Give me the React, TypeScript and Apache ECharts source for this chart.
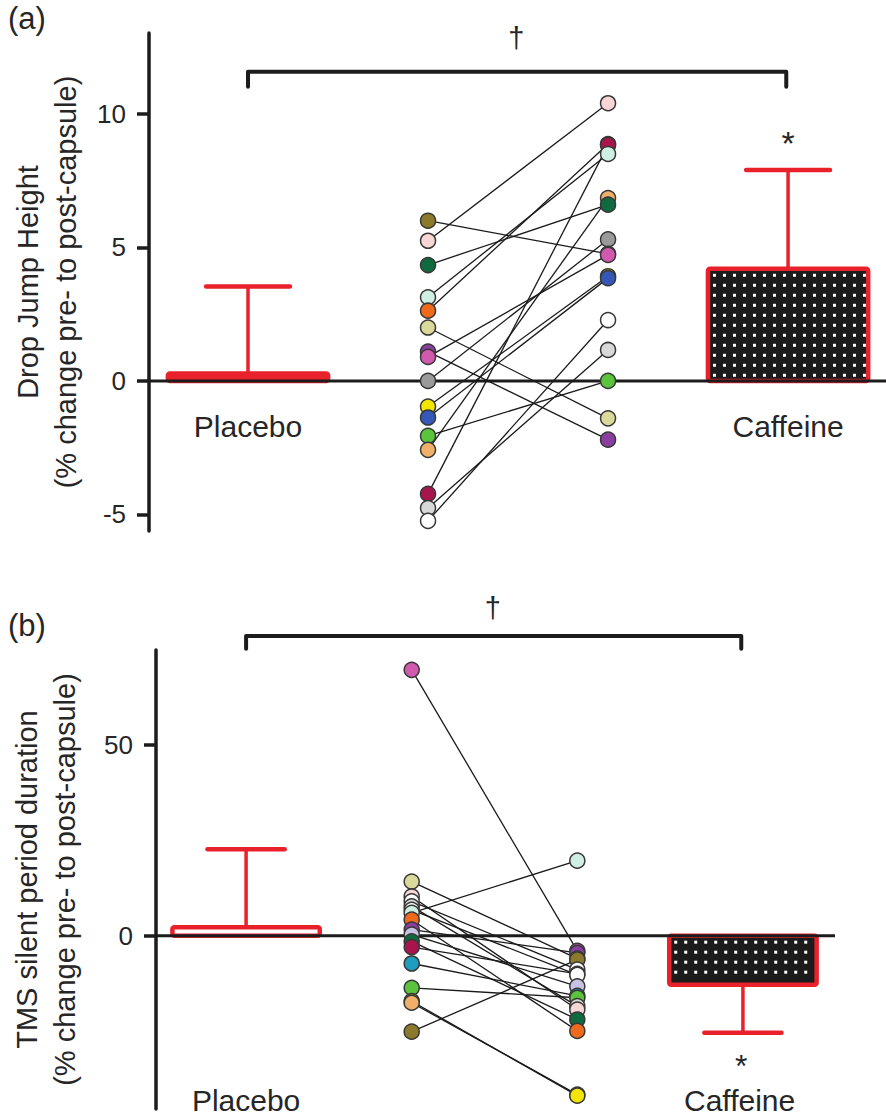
import { useEffect, useRef } from 'react';
import * as echarts from 'echarts';

const FONT = '"Liberation Sans", Arial, Helvetica, sans-serif';
const RED = '#E8212B';
const INK = '#1c1c1c';
const TEXT = '#262626';

// category positions on the hidden x axis
const groupLabels = ['Placebo', 'Caffeine'];
const groupX = [1, 4];
const preX = 2;
const postX = 3;

const palette: Record<string, string> = {
  olive: '#8C7A2B',
  lightPink: '#F8D6D6',
  darkGreen: '#0F6B3F',
  lightCyan: '#CFEFE3',
  orange: '#EE6A1C',
  khaki: '#D9D99B',
  purple: '#8A3FA0',
  magenta: '#D15AAE',
  gray: '#9A9A9A',
  yellow: '#F2E600',
  blue: '#3558B8',
  green: '#5BC43C',
  lightOrange: '#F1B06A',
  crimson: '#A8154D',
  lightGray: '#D8D8D8',
  white: '#FFFFFF',
  teal: '#1E9DBF',
  lavender: '#C8C3E6',
};

// ---------- panel (a): drop jump height ----------
const jumpMean = [0.28, 4.2];
const jumpSD = [3.26, 3.7];
const jumpColors = ['olive', 'lightPink', 'darkGreen', 'lightCyan', 'orange', 'khaki', 'purple', 'magenta', 'gray', 'yellow', 'blue', 'green', 'lightOrange', 'crimson', 'lightGray', 'white'];
const jumpPre = [6.0, 5.25, 4.34, 3.13, 2.63, 2.0, 1.1, 0.9, 0.0, -0.96, -1.37, -2.06, -2.58, -4.23, -4.76, -5.24];
const jumpPost = [4.76, 10.4, 6.6, 8.5, 8.87, -1.4, -2.2, 4.72, 5.3, 3.92, 3.85, 0.0, 6.85, 8.84, 1.16, 2.28];
const jumpTicks = [-5, 0, 5, 10];

// ---------- panel (b): TMS silent period ----------
const silentMean = [2.2, -12.9];
const silentSD = [20.5, 12.6];
const silentColors = ['magenta', 'khaki', 'lightPink', 'white', 'lightGray', 'lightCyan', 'orange', 'purple', 'lavender', 'darkGreen', 'crimson', 'teal', 'green', 'yellow', 'lightOrange', 'olive', 'white'];
const silentPre = [69.8, 14.2, 10.3, 9.0, 7.7, 6.0, 4.2, 1.6, 0.3, -1.5, -3.0, -7.3, -13.7, -17.2, -17.6, -25.2, 6.8];
const silentPost = [-4.0, -6.0, -19.4, -8.9, -18.5, 19.7, -25.0, -4.5, -13.3, -22.0, -10.0, -15.8, -16.3, -42.0, -41.7, -6.3, -10.3];
const silentTicks = [0, 50];

// annotation layout (data units)
const BAR_HALF = 0.445;
const CAP_HALF = 0.233;

const panels = [
  {
    title: '(a)',
    titleTop: 3,
    name: 'Drop Jump Height\n(% change pre- to post-capsule)',
    nameGap: 64,
    grid: { left: 149, top: 33, width: 737, height: 498 },
    xMin: 0.45, xMax: 4.544,
    yMin: -5.62, yMax: 13.03,
    ticks: jumpTicks,
    mean: jumpMean, sd: jumpSD,
    colors: jumpColors, pre: jumpPre, post: jumpPost,
    bracket: { x1: 1, x2: 3.99, y: 11.58, yEnd: 11.02 },
    notes: [
      { text: groupLabels[0], x: 1, y: -1.7, size: 30 },
      { text: groupLabels[1], x: 4, y: -1.7, size: 30 },
      { text: '*', x: 4, y: 8.9, size: 34 },
      { text: '†', x: 2.49, y: 12.85, size: 29 },
    ],
  },
  {
    title: '(b)',
    titleTop: 610,
    name: 'TMS silent period duration\n(% change pre- to post-capsule)',
    nameGap: 72,
    grid: { left: 149, top: 650, width: 686, height: 459 },
    xMin: 0.456, xMax: 4.556,
    yMin: -45.5, yMax: 75,
    ticks: silentTicks,
    mean: silentMean, sd: silentSD,
    colors: silentColors, pre: silentPre, post: silentPost,
    bracket: { x1: 1, x2: 3.99, y: 78.7, yEnd: 75.3 },
    notes: [
      { text: groupLabels[0], x: 1, y: -43.2, size: 30 },
      { text: groupLabels[1], x: 3.98, y: -43.2, size: 30 },
      { text: '*', x: 3.99, y: -34.2, size: 32 },
      { text: '†', x: 2.49, y: 86.1, size: 29 },
    ],
  },
];

function buildOption() {
  const grid: any[] = [];
  const xAxis: any[] = [];
  const yAxis: any[] = [];
  const series: any[] = [];
  const title: any[] = [];

  panels.forEach((p, i) => {
    title.push({
      text: p.title,
      left: 8,
      top: p.titleTop,
      padding: 0,
      textStyle: { fontFamily: FONT, fontSize: 31, fontWeight: 'normal', color: TEXT },
    });
    grid.push({ ...p.grid, containLabel: false });
    xAxis.push({ type: 'value', gridIndex: i, min: p.xMin, max: p.xMax, show: false });
    yAxis.push({
      type: 'value',
      gridIndex: i,
      min: p.yMin,
      max: p.yMax,
      name: p.name,
      nameLocation: 'middle',
      nameRotate: 90,
      nameGap: p.nameGap,
      nameTextStyle: { fontFamily: FONT, fontSize: 29, color: TEXT, lineHeight: 38 },
      axisLine: { show: true, lineStyle: { color: INK, width: 3.5 } },
      axisTick: { show: true, length: 12, lineStyle: { color: INK, width: 3.5 }, customValues: p.ticks },
      axisLabel: { fontFamily: FONT, fontSize: 26, color: TEXT, margin: 23, customValues: p.ticks },
      splitLine: { show: false },
    });

    // bars with error bars
    const barData = groupX.map((x, g) => [x, p.mean[g], p.sd[g], g]);
    series.push({
      type: 'custom',
      xAxisIndex: i,
      yAxisIndex: i,
      z: 1,
      data: barData,
      renderItem: (params: any, api: any) => {
        const x = api.value(0);
        const mean = api.value(1);
        const sd = api.value(2);
        const filled = api.value(3) === 1;
        const a = api.coord([x - BAR_HALF, 0]);
        const b = api.coord([x + BAR_HALF, mean]);
        const left = a[0];
        const right = b[0];
        const top = Math.min(a[1], b[1]);
        const h = Math.abs(b[1] - a[1]);
        const children: any[] = [];
        const dir = mean >= 0 ? 1 : -1;
        const pm = api.coord([x, mean]);
        const pe = api.coord([x, mean + dir * sd]);
        const cl = api.coord([x - CAP_HALF, mean + dir * sd]);
        const cr = api.coord([x + CAP_HALF, mean + dir * sd]);
        children.push({
          type: 'line',
          shape: { x1: pm[0], y1: pm[1], x2: pe[0], y2: pe[1] },
          style: { stroke: RED, lineWidth: 3.5 },
        });
        children.push({
          type: 'line',
          shape: { x1: cl[0], y1: cl[1], x2: cr[0], y2: cr[1] },
          style: { stroke: RED, lineWidth: 4.5, lineCap: 'round' },
        });
        // a very thin outlined bar reads as a solid red band
        const emptyFill = h < 8 ? RED : '#ffffff';
        children.push({
          type: 'rect',
          shape: { x: left, y: top, width: right - left, height: h, r: 2 },
          style: { fill: filled ? '#1b1b1b' : emptyFill, stroke: RED, lineWidth: 4.5, lineJoin: 'round' },
        });
        if (filled) {
          for (let gy = top + 5; gy < top + h - 5; gy += 10) {
            for (let gx = left + 5; gx < right - 5; gx += 10) {
              children.push({
                type: 'rect',
                shape: { x: gx, y: gy, width: 3, height: 3 },
                style: { fill: '#ffffff' },
              });
            }
          }
        }
        return { type: 'group', children };
      },
    });

    // zero line
    series.push({
      type: 'custom',
      xAxisIndex: i,
      yAxisIndex: i,
      z: 2,
      data: [[p.xMin, p.xMax]],
      renderItem: (params: any, api: any) => {
        const s = api.coord([api.value(0), 0]);
        const e = api.coord([api.value(1), 0]);
        return {
          type: 'line',
          shape: { x1: s[0], y1: s[1], x2: e[0], y2: e[1] },
          style: { stroke: INK, lineWidth: 3 },
        };
      },
    });

    // subject lines
    series.push({
      type: 'lines',
      coordinateSystem: 'cartesian2d',
      xAxisIndex: i,
      yAxisIndex: i,
      z: 3,
      symbol: 'none',
      lineStyle: { color: '#1a1a1a', width: 1.3, opacity: 1, curveness: 0 },
      data: p.pre.map((v, k) => ({ coords: [[preX, v], [postX, p.post[k]]] })),
    });

    // subject points (lower values drawn on top)
    const makePoints = (x: number, vals: number[]) =>
      vals
        .map((v, k) => ({ value: [x, v], itemStyle: { color: palette[p.colors[k]] } }))
        .sort((m, n) => n.value[1] - m.value[1]);
    [makePoints(preX, p.pre), makePoints(postX, p.post)].forEach((pts) => {
      series.push({
        type: 'scatter',
        xAxisIndex: i,
        yAxisIndex: i,
        z: 4,
        symbol: 'circle',
        symbolSize: 15,
        itemStyle: { borderColor: '#383838', borderWidth: 1.5, opacity: 1 },
        data: pts,
      });
    });

    // significance bracket
    series.push({
      type: 'custom',
      xAxisIndex: i,
      yAxisIndex: i,
      z: 5,
      clip: false,
      data: [[p.bracket.x1, p.bracket.x2, p.bracket.y, p.bracket.yEnd]],
      renderItem: (params: any, api: any) => {
        const a0 = api.coord([api.value(0), api.value(3)]);
        const a1 = api.coord([api.value(0), api.value(2)]);
        const b1 = api.coord([api.value(1), api.value(2)]);
        const b0 = api.coord([api.value(1), api.value(3)]);
        return {
          type: 'polyline',
          shape: { points: [a0, a1, b1, b0] },
          style: { stroke: INK, lineWidth: 4, fill: 'none', lineJoin: 'round', lineCap: 'round' },
        };
      },
    });

    // text notes
    series.push({
      type: 'custom',
      xAxisIndex: i,
      yAxisIndex: i,
      z: 6,
      clip: false,
      data: p.notes.map((n) => [n.x, n.y]),
      renderItem: (params: any, api: any) => {
        const pt = api.coord([api.value(0), api.value(1)]);
        const n = p.notes[params.dataIndex];
        return {
          type: 'text',
          x: pt[0],
          y: pt[1],
          style: {
            text: n.text,
            fontFamily: FONT,
            fontSize: n.size,
            fill: TEXT,
            align: 'center',
            verticalAlign: 'middle',
          },
        };
      },
    });
  });

  return { animation: false, backgroundColor: '#ffffff', title, grid, xAxis, yAxis, series };
}

export default function App() {
  const ref = useRef<HTMLDivElement>(null);
  useEffect(() => {
    if (!ref.current) return;
    const chart = echarts.init(ref.current, undefined, { renderer: 'svg' });
    chart.setOption(buildOption() as any);
    return () => chart.dispose();
  }, []);
  return (
    <div
      ref={ref}
      style={{ position: 'absolute', left: 0, top: 0, width: 886, height: 1117, background: '#fff' }}
    />
  );
}
